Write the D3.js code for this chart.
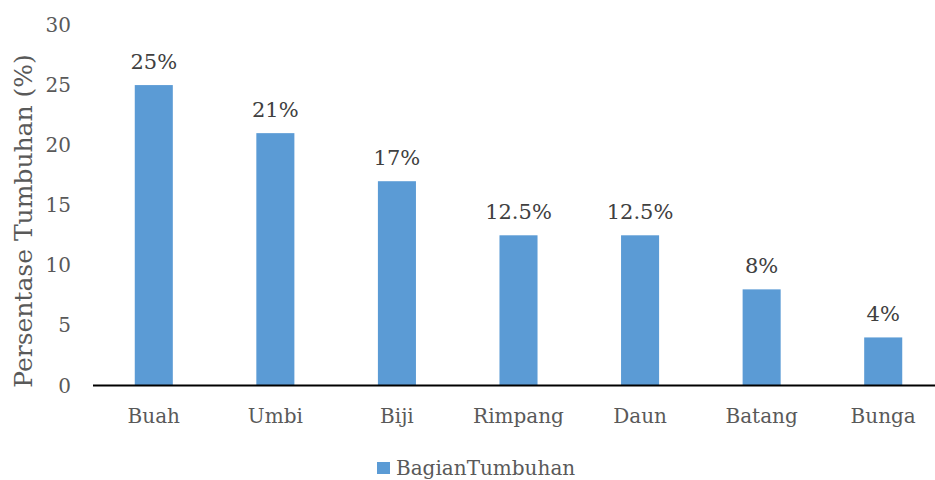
<!DOCTYPE html>
<html>
<head>
<meta charset="utf-8">
<script src="https://cdn.jsdelivr.net/npm/d3@7"></script>
<style>
  body { margin: 0; background: #fff; }
  svg text { font-family: "DejaVu Serif", "Liberation Serif", serif; fill: #595959; }
</style>
</head>
<body>
<div id="chart"></div>
<script>
// data
const categories = ["Buah", "Umbi", "Biji", "Rimpang", "Daun", "Batang", "Bunga"];
const values = [25, 21, 17, 12.5, 12.5, 8, 4];
const valueLabels = ["25%", "21%", "17%", "12.5%", "12.5%", "8%", "4%"];
const yTicks = [0, 5, 10, 15, 20, 25, 30];
const seriesName = "BagianTumbuhan";

const width = 935, height = 480;

const svg = d3.select("#chart").append("svg")
    .attr("width", width)
    .attr("height", height);

// x band - right end runs past the frame (cropped like the original)
const x = d3.scaleBand()
    .domain(categories)
    .range([93, 944])
    .padding(0);

const barW = x.bandwidth() * 0.313;

const y = d3.scaleLinear()
    .domain([0, 30])
    .range([385.5, 25]);

// y tick labels
svg.append("g")
    .selectAll("text")
    .data(yTicks)
    .enter().append("text")
    .attr("x", 71)
    .attr("y", d => y(d))
    .attr("dy", "0.35em")
    .attr("text-anchor", "end")
    .attr("font-size", 20)
    .text(d => d);

// y axis title
svg.append("text")
    .attr("transform", "translate(32, 221) rotate(-90)")
    .attr("text-anchor", "middle")
    .attr("font-size", 25)
    .text("Persentase Tumbuhan (%)");

// bars
svg.append("g")
    .selectAll("rect")
    .data(values)
    .enter().append("rect")
    .attr("x", (d, i) => x(categories[i]) + x.bandwidth() / 2 - barW / 2)
    .attr("y", d => y(d))
    .attr("width", barW)
    .attr("height", d => y(0) - y(d))
    .attr("fill", "#5b9bd5");

// value labels
svg.append("g")
    .selectAll("text")
    .data(values)
    .enter().append("text")
    .attr("x", (d, i) => x(categories[i]) + x.bandwidth() / 2)
    .attr("y", d => y(d) - 16)
    .attr("text-anchor", "middle")
    .attr("font-size", 21)
    .style("fill", "#404040")
    .text((d, i) => valueLabels[i]);

// x axis line
svg.append("line")
    .attr("x1", 93)
    .attr("x2", width)
    .attr("y1", y(0))
    .attr("y2", y(0))
    .attr("stroke", "#000")
    .attr("stroke-width", 2);

// category labels
svg.append("g")
    .selectAll("text")
    .data(categories)
    .enter().append("text")
    .attr("x", d => x(d) + x.bandwidth() / 2)
    .attr("y", 423)
    .attr("text-anchor", "middle")
    .attr("font-size", 20)
    .text(d => d);

// legend
const legend = svg.append("g");
legend.append("rect")
    .attr("x", 377)
    .attr("y", 462)
    .attr("width", 13)
    .attr("height", 12)
    .attr("fill", "#5b9bd5");
legend.append("text")
    .attr("x", 396)
    .attr("y", 475)
    .attr("font-size", 20)
    .text(seriesName);
</script>
</body>
</html>
